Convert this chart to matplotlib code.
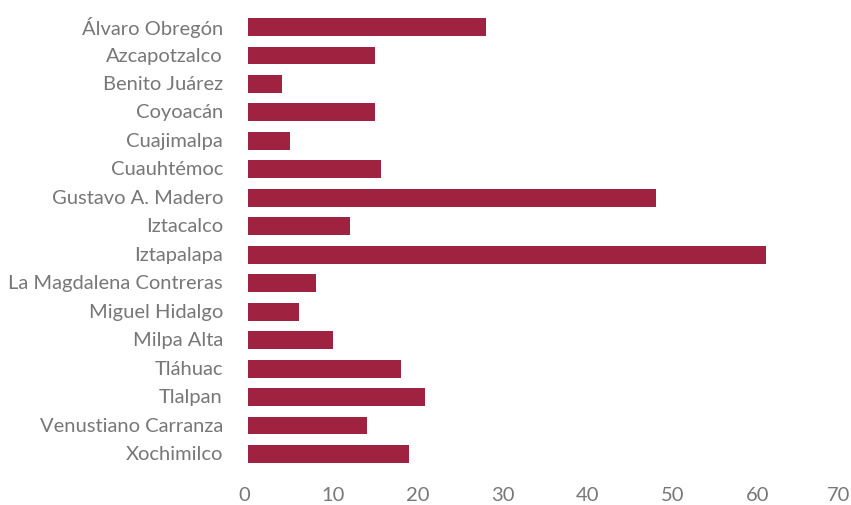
import matplotlib
matplotlib.use("Agg")
import matplotlib.pyplot as plt
from matplotlib.transforms import ScaledTranslation

alcaldias = [
    "Álvaro Obregón", "Azcapotzalco", "Benito Juárez", "Coyoacán",
    "Cuajimalpa", "Cuauhtémoc", "Gustavo A. Madero", "Iztacalco",
    "Iztapalapa", "La Magdalena Contreras", "Miguel Hidalgo", "Milpa Alta",
    "Tláhuac", "Tlalpan", "Venustiano Carranza", "Xochimilco",
]
valores = [28, 15, 4, 15, 5, 15.7, 48, 12, 61, 8, 6, 10, 18, 20.8, 14, 19]

xticks = [0, 10, 20, 30, 40, 50, 60, 70]


def main():
    plt.rcParams["font.family"] = ["Lato", "DejaVu Sans"]

    fig = plt.figure(figsize=(8.51, 5.06), dpi=100)
    ax = fig.add_axes([0.2914, 0.0727, 0.6992, 0.9])

    pos = list(range(len(alcaldias)))
    ax.barh(pos, valores, height=0.63, color="#9f2241")

    ax.set_yticks(pos)
    ax.set_yticklabels(alcaldias)
    ax.set_ylim(len(alcaldias) - 0.5, -0.5)
    ax.set_xticks(xticks)
    ax.set_xlim(0, 70)

    for s in ax.spines.values():
        s.set_visible(False)
    ax.tick_params(axis="both", length=0, labelsize=14.5, labelcolor="#777777")
    ax.tick_params(axis="y", pad=18)
    ax.tick_params(axis="x", pad=13)

    # category names sit a touch above the bar centres
    up = ScaledTranslation(0, 2 / 100, fig.dpi_scale_trans)
    for lbl in ax.get_yticklabels():
        lbl.set_transform(lbl.get_transform() + up)

    # pull the end labels in a little so "70" stays on the canvas
    shift = ScaledTranslation(-4 / 100, 0, fig.dpi_scale_trans)
    xlabels = ax.get_xticklabels()
    for lbl in (xlabels[0], xlabels[-1]):
        lbl.set_transform(lbl.get_transform() + shift)

    fig.savefig("out.png", dpi=100)


if __name__ == "__main__":
    main()
